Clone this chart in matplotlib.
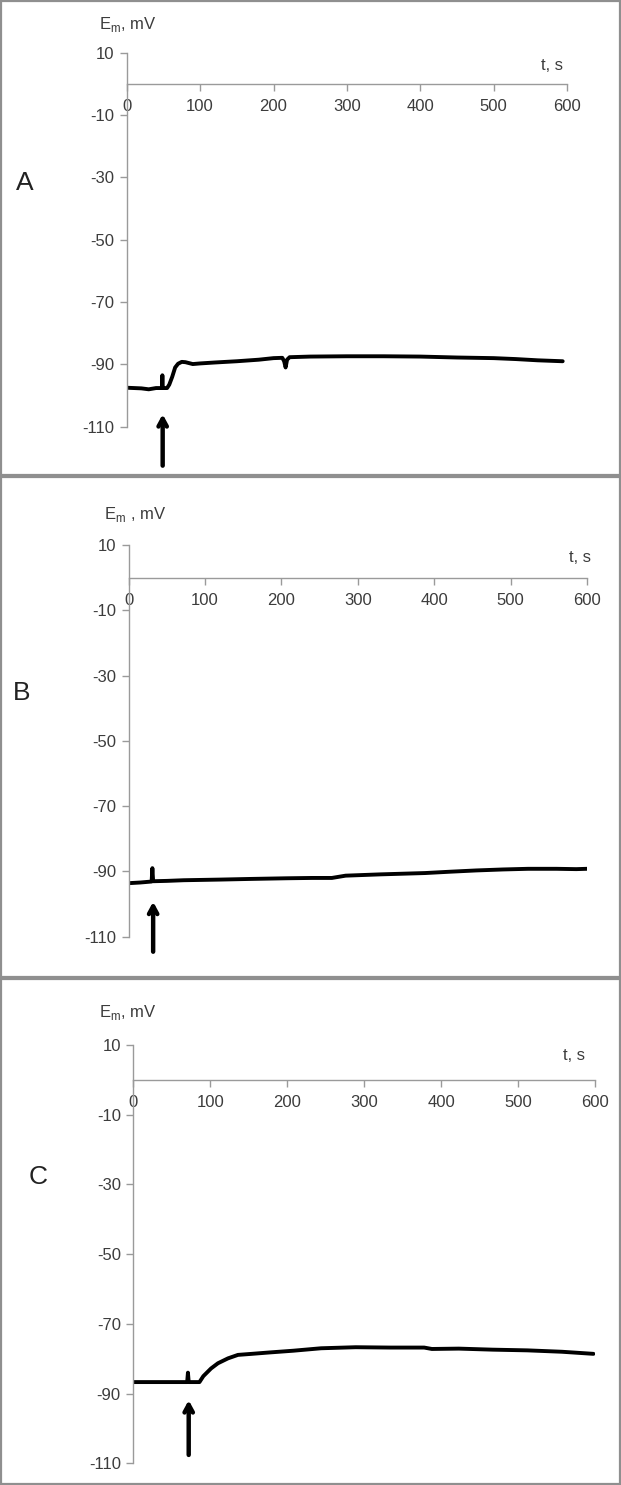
import matplotlib
matplotlib.use("Agg")
import matplotlib.pyplot as plt
from matplotlib.patches import Rectangle
import numpy as np

plt.rcParams['font.family'] = ['Liberation Sans', 'DejaVu Sans']
plt.rcParams['mathtext.fontset'] = 'custom'
plt.rcParams['mathtext.rm'] = 'Liberation Sans'

# ---------------- data ----------------
x_ticks = [0, 100, 200, 300, 400, 500, 600]
y_ticks = [10, -10, -30, -50, -70, -90, -110]

tA = [0, 10, 20, 30, 40, 48, 48.6, 49.2, 50, 55, 58, 62, 66, 70, 75, 80, 90, 100, 120, 150,
      180, 200, 212, 214.5, 216.5, 218.5, 222, 250, 300, 350, 400, 450, 500, 530, 560, 594]
eA = [-97.5, -97.6, -97.7, -98.0, -97.6, -97.6, -93.5, -97.6, -97.6, -97.6, -96.5, -94.0,
      -91.0, -89.8, -89.2, -89.3, -89.9, -89.7, -89.4, -89.0, -88.5, -88.0, -87.9, -89.0,
      -91.0, -88.5, -87.7, -87.5, -87.4, -87.4, -87.5, -87.8, -88.0, -88.3, -88.7, -89.0]

tB = [0, 15, 30, 31, 32, 33, 50, 72, 120, 160, 207, 240, 266, 284, 330, 388, 420, 455,
      490, 523, 560, 586, 600]
eB = [-93.6, -93.4, -93.1, -89.0, -93.0, -93.0, -92.9, -92.7, -92.5, -92.3, -92.1, -92.0,
      -92.0, -91.3, -90.9, -90.5, -90.1, -89.7, -89.4, -89.2, -89.2, -89.3, -89.2]

tC = [0, 30, 60, 70, 71, 72, 86, 91, 101, 110, 123, 136, 154, 177, 208, 244, 289, 334,
      378, 388, 423, 467, 512, 557, 598]
eC = [-86.7, -86.7, -86.7, -86.7, -84.0, -86.7, -86.7, -85.0, -82.8, -81.3, -79.9, -78.9,
      -78.6, -78.2, -77.7, -77.0, -76.7, -76.8, -76.8, -77.2, -77.1, -77.4, -77.6, -78.0,
      -78.6]

arrow_t = [49, 32, 72]
arrow_top = [-106.0, -99.3, -91.9]
arrow_bottom = [-122.5, -114.6, -107.6]

panel_letters = ['A', 'B', 'C']
ylabels = ['E$_{\\rm m}$, mV', 'E$_{\\rm m}$ , mV', 'E$_{\\rm m}$, mV']
xlabel = 't, s'

# ---------------- layout (pixels) ----------------
W, H = 621, 1485
fig = plt.figure(figsize=(W / 100, H / 100), dpi=100)
fig.patch.set_facecolor('white')

def fx(px):
    return px / W

def fy(py):
    return 1 - py / H

# axes boxes: left, right, top(10), bottom(-110)
boxes = [(126.7, 567.1, 52.7, 426.7),
         (128.7, 587.0, 545.0, 936.7),
         (133.3, 595.0, 1045.0, 1463.3)]
letter_pos = [(25, 183), (22, 693), (38, 1177)]
ylabel_pos = [(99, 25), (104, 515), (99, 1012)]
xlabel_pos = [(552, 65), (580, 557), (574, 1055)]

series = [(tA, eA), (tB, eB), (tC, eC)]
grey = '#9a9a9a'
tcol = '#3c3c3c'

for i, (l, r, t, b) in enumerate(boxes):
    ax = fig.add_axes([fx(l), fy(b), fx(r - l), (b - t) / H])
    ax.set_facecolor('none')
    tt, ee = series[i]
    ax.plot(tt, ee, color='black', lw=2.8, solid_joinstyle='round', solid_capstyle='round')
    ax.set_xlim(0, 600)
    ax.set_ylim(-110, 10)
    ax.set_xticks(x_ticks)
    ax.set_yticks(y_ticks)
    ax.set_xticklabels([str(v) for v in x_ticks])
    ax.set_yticklabels([str(v) for v in y_ticks])
    for s in ['top', 'right']:
        ax.spines[s].set_visible(False)
    ax.spines['bottom'].set_position(('data', 0))
    ax.spines['left'].set_color(grey)
    ax.spines['bottom'].set_color(grey)
    ax.spines['left'].set_linewidth(1.0)
    ax.spines['bottom'].set_linewidth(1.0)
    ax.tick_params(axis='both', direction='out', length=5, width=1.0, color=grey,
                   labelsize=12, labelcolor=tcol)
    ax.tick_params(axis='x', pad=6)
    ax.tick_params(axis='y', pad=4)
    ax.annotate('', xy=(arrow_t[i], arrow_top[i]), xytext=(arrow_t[i], arrow_bottom[i]),
                arrowprops=dict(arrowstyle='->,head_length=0.55,head_width=0.3',
                                lw=3.2, color='black', shrinkA=0, shrinkB=0),
                annotation_clip=False)

    fig.text(fx(letter_pos[i][0]), fy(letter_pos[i][1]), panel_letters[i],
             fontsize=19, color='#222222', ha='center', va='center')
    fig.text(fx(ylabel_pos[i][0]), fy(ylabel_pos[i][1]), ylabels[i],
             fontsize=12, color=tcol, ha='left', va='center')
    fig.text(fx(xlabel_pos[i][0]), fy(xlabel_pos[i][1]), xlabel,
             fontsize=12, color=tcol, ha='center', va='center')

# panel frames
frame_col = '#8f8f8f'
seps = [0, 476, 978, 1485]
for k in range(3):
    y0, y1 = seps[k], seps[k + 1]
    fig.add_artist(Rectangle((fx(1), fy(y1 - 1)), fx(W - 2), (y1 - y0 - 2) / H,
                             transform=fig.transFigure, fill=False,
                             edgecolor=frame_col, lw=1.6))

fig.savefig('out.png', dpi=100, facecolor='white')
